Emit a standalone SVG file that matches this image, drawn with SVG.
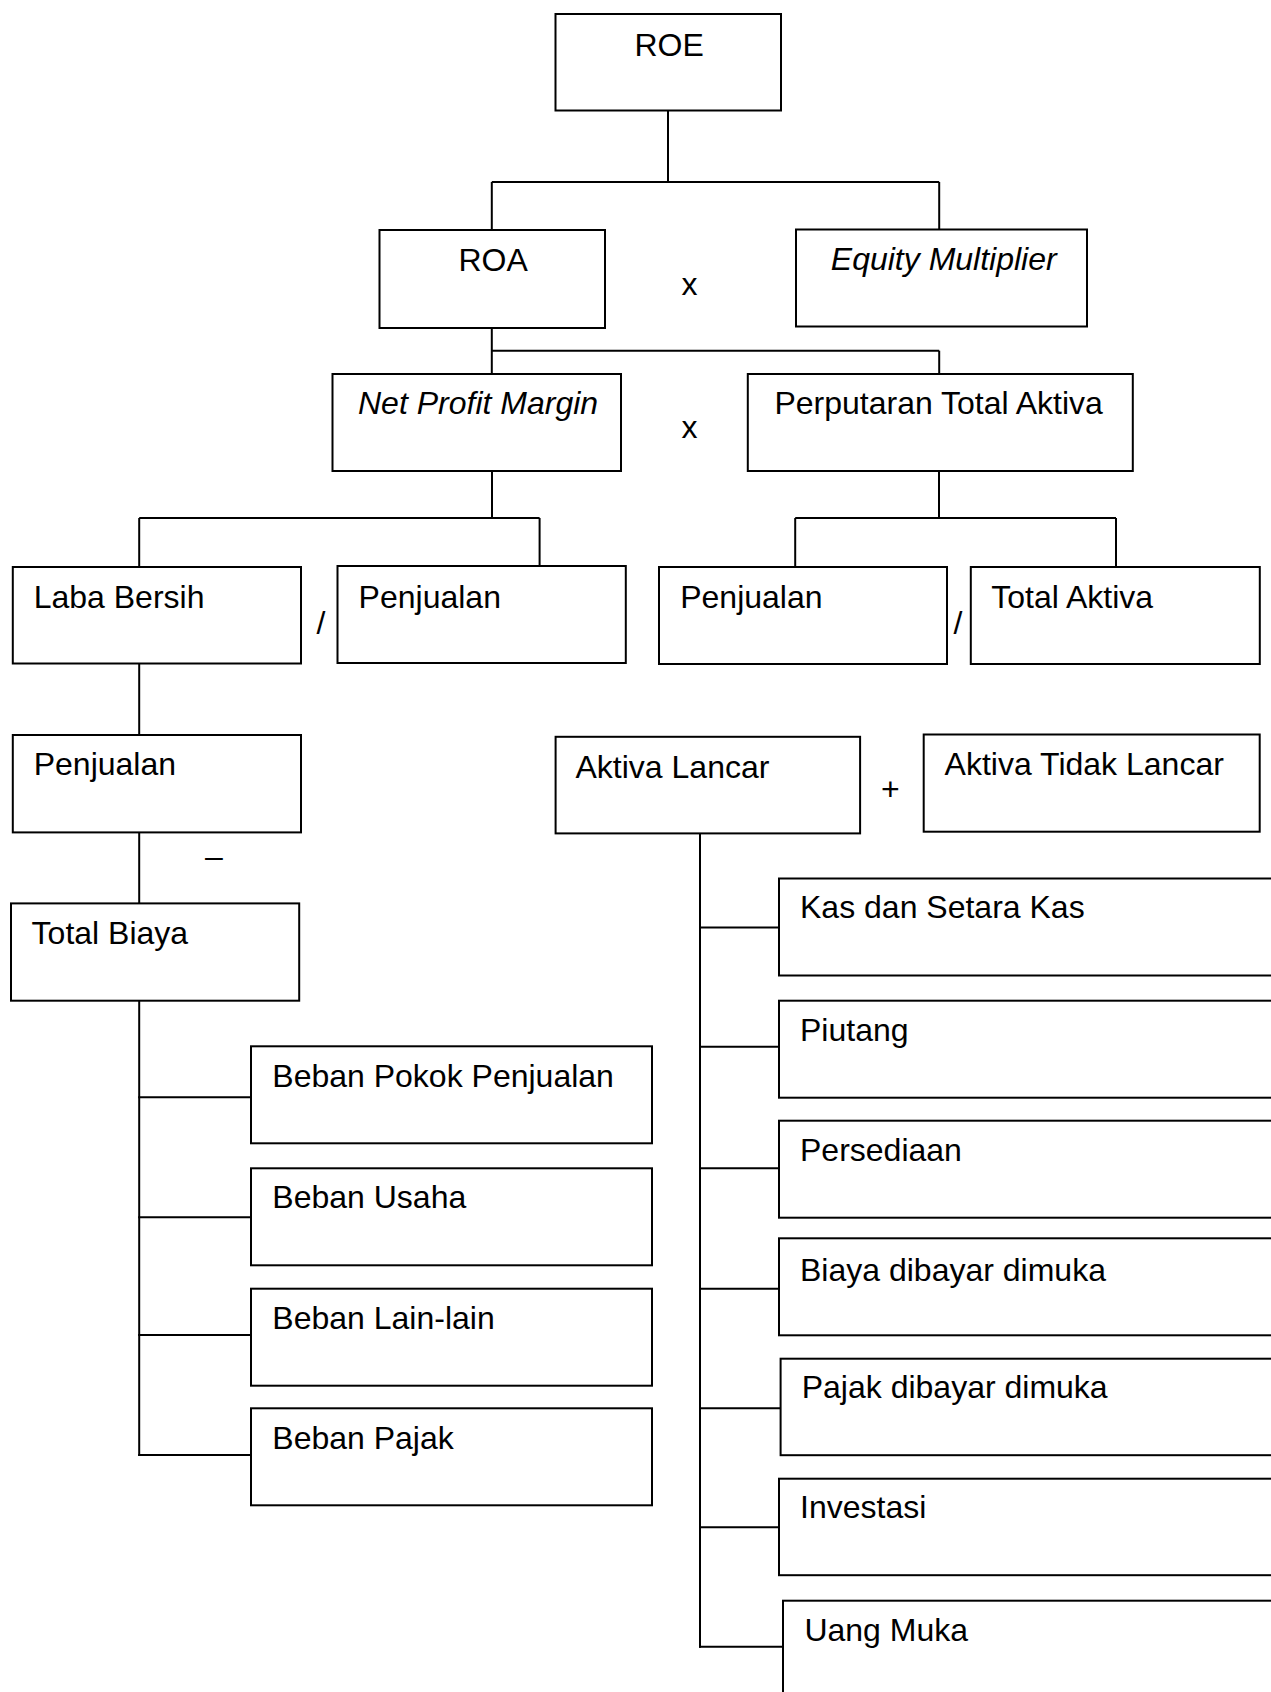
<svg xmlns="http://www.w3.org/2000/svg" width="1271" height="1692" viewBox="0 0 1271 1692">
<style>
.b{fill:#fff;stroke:#000;stroke-width:2}
.t{font-family:"Liberation Sans",Arial,sans-serif;font-size:32px;fill:#000}
.i{font-style:italic}
.c line{stroke:#000;stroke-width:2}
</style>
<rect x="0" y="0" width="1271" height="1692" fill="#fff"/>
<g class="c" id="connectors">
<line x1="668" y1="110" x2="668" y2="182"/>
<line x1="491.8" y1="182" x2="939.2" y2="182"/>
<line x1="491.8" y1="182" x2="491.8" y2="230"/>
<line x1="939.2" y1="182" x2="939.2" y2="229.5"/>
<line x1="491.8" y1="328" x2="491.8" y2="374"/>
<line x1="491.8" y1="350.7" x2="939.2" y2="350.7"/>
<line x1="939.2" y1="350.7" x2="939.2" y2="374"/>
<line x1="492" y1="471" x2="492" y2="518"/>
<line x1="139.2" y1="518" x2="539.6" y2="518"/>
<line x1="139.2" y1="518" x2="139.2" y2="567"/>
<line x1="539.6" y1="518" x2="539.6" y2="566"/>
<line x1="939" y1="471" x2="939" y2="518"/>
<line x1="795.2" y1="518" x2="1116" y2="518"/>
<line x1="795.2" y1="518" x2="795.2" y2="567"/>
<line x1="1116" y1="518" x2="1116" y2="567"/>
<line x1="139.2" y1="663.5" x2="139.2" y2="735"/>
<line x1="139.2" y1="832.4" x2="139.2" y2="903.4"/>
<line x1="139.2" y1="1000.7" x2="139.2" y2="1456"/>
<line x1="138.2" y1="1097.3" x2="251" y2="1097.3"/>
<line x1="138.2" y1="1217.3" x2="251" y2="1217.3"/>
<line x1="138.2" y1="1335" x2="251" y2="1335"/>
<line x1="138.2" y1="1455" x2="251" y2="1455"/>
<line x1="700" y1="833.4" x2="700" y2="1647.7"/>
<line x1="699" y1="927.5" x2="779" y2="927.5"/>
<line x1="699" y1="1046.7" x2="781" y2="1046.7"/>
<line x1="699" y1="1168.3" x2="781" y2="1168.3"/>
<line x1="699" y1="1288.7" x2="781" y2="1288.7"/>
<line x1="699" y1="1408.3" x2="782" y2="1408.3"/>
<line x1="699" y1="1527.3" x2="782" y2="1527.3"/>
<line x1="699" y1="1646.7" x2="783" y2="1646.7"/>
</g>
<g id="roe"><rect class="b" x="555.5" y="14" width="225.5" height="96.5"/><text class="t" x="634.5" y="55.5">ROE</text></g>
<g id="roa"><rect class="b" x="379.5" y="230" width="225.5" height="98"/><text class="t" x="458.5" y="271">ROA</text></g>
<text class="t" x="689.6" y="295" text-anchor="middle">x</text>
<g id="em"><rect class="b" x="796" y="229.5" width="291" height="97"/><text class="t i" x="830.8" y="270">Equity Multiplier</text></g>
<g id="npm"><rect class="b" x="332.5" y="374" width="288.5" height="97"/><text class="t i" x="358" y="413.5">Net Profit Margin</text></g>
<text class="t" x="689.6" y="438" text-anchor="middle">x</text>
<g id="pta"><rect class="b" x="747.8" y="374" width="385" height="97"/><text class="t" x="774.4" y="413.5">Perputaran Total Aktiva</text></g>
<g id="labaBersih"><rect class="b" x="12.8" y="567" width="288.2" height="96.5"/><text class="t" x="33.7" y="607.5">Laba Bersih</text></g>
<text class="t" x="321" y="634" text-anchor="middle">/</text>
<g id="penjualan1"><rect class="b" x="337.5" y="566" width="288.3" height="97"/><text class="t" x="358.6" y="607.5">Penjualan</text></g>
<g id="penjualan2"><rect class="b" x="659" y="567" width="288" height="97"/><text class="t" x="680.2" y="607.5">Penjualan</text></g>
<text class="t" x="958" y="634" text-anchor="middle">/</text>
<g id="totalAktiva"><rect class="b" x="970.8" y="567" width="289" height="97"/><text class="t" x="991.3" y="607.5">Total Aktiva</text></g>
<g id="penjualan3"><rect class="b" x="12.8" y="735" width="288.2" height="97.4"/><text class="t" x="33.7" y="774.8">Penjualan</text></g>
<text class="t" x="205" y="867">–</text>
<g id="totalBiaya"><rect class="b" x="11" y="903.4" width="288.2" height="97.3"/><text class="t" x="31.6" y="943.8">Total Biaya</text></g>
<g id="bebanPokok"><rect class="b" x="251" y="1046.3" width="401" height="97"/><text class="t" x="272.3" y="1086.5">Beban Pokok Penjualan</text></g>
<g id="bebanUsaha"><rect class="b" x="251" y="1168.3" width="401" height="97"/><text class="t" x="272.3" y="1208">Beban Usaha</text></g>
<g id="bebanLain"><rect class="b" x="251" y="1288.7" width="401" height="97"/><text class="t" x="272.3" y="1328.5">Beban Lain-lain</text></g>
<g id="bebanPajak"><rect class="b" x="251" y="1408.3" width="401" height="97"/><text class="t" x="272.3" y="1448.5">Beban Pajak</text></g>
<g id="aktivaLancar"><rect class="b" x="555.6" y="736.8" width="304.5" height="96.6"/><text class="t" x="575.5" y="778">Aktiva Lancar</text></g>
<text class="t" x="890.3" y="800" text-anchor="middle">+</text>
<g id="aktivaTidakLancar"><rect class="b" x="923.7" y="734.5" width="336" height="97.2"/><text class="t" x="944.6" y="774.8">Aktiva Tidak Lancar</text></g>
<g id="kas"><rect class="b" x="779" y="878.5" width="520" height="97"/><text class="t" x="800" y="918.3">Kas dan Setara Kas</text></g>
<g id="piutang"><rect class="b" x="779" y="1000.7" width="520" height="97"/><text class="t" x="800" y="1040.5">Piutang</text></g>
<g id="persediaan"><rect class="b" x="779" y="1120.7" width="520" height="97"/><text class="t" x="800" y="1160.5">Persediaan</text></g>
<g id="biayaDibayar"><rect class="b" x="779" y="1238.3" width="520" height="97"/><text class="t" x="800" y="1280.5">Biaya dibayar dimuka</text></g>
<g id="pajakDibayar"><rect class="b" x="780.6" y="1358.7" width="520" height="96.5"/><text class="t" x="801.7" y="1397.5">Pajak dibayar dimuka</text></g>
<g id="investasi"><rect class="b" x="779" y="1478.7" width="520" height="96.5"/><text class="t" x="800" y="1518">Investasi</text></g>
<g id="uangMuka"><rect class="b" x="783" y="1600.7" width="520" height="120"/><text class="t" x="804.4" y="1640.5">Uang Muka</text></g>
</svg>
